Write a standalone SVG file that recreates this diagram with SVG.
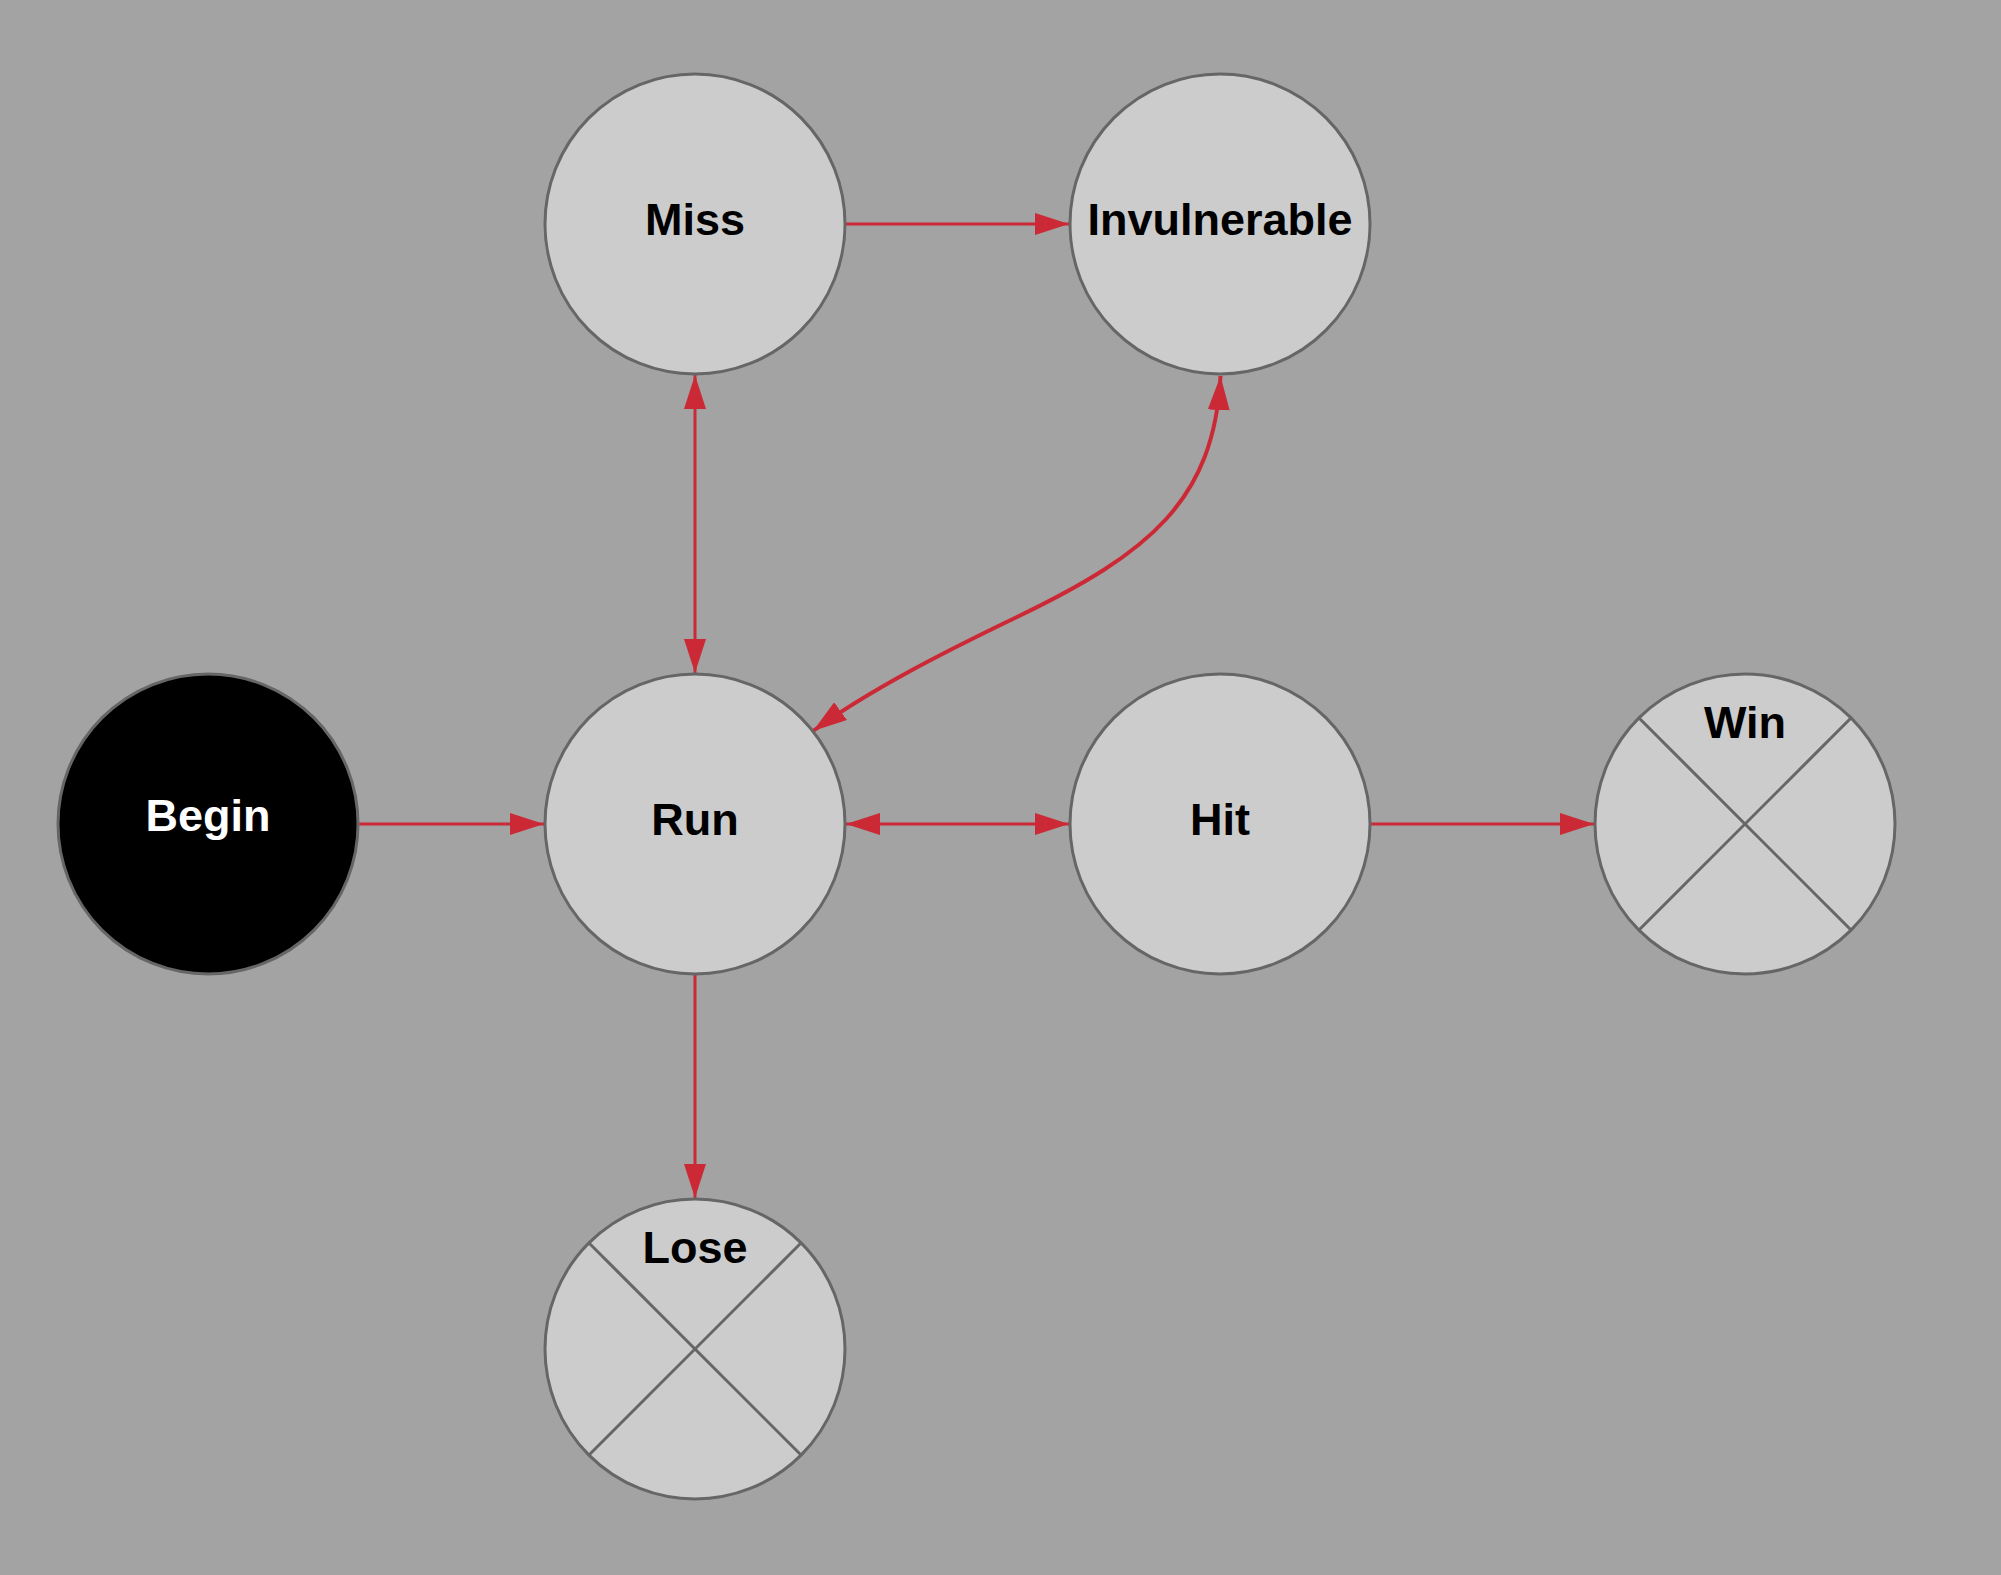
<svg xmlns="http://www.w3.org/2000/svg" width="2001" height="1575" viewBox="0 0 2001 1575">
<style>
.node circle{fill:#cccccc;stroke:#666666;stroke-width:3}
.node line{stroke:#666666;stroke-width:3}
.node text{font-family:"Liberation Sans",Arial,sans-serif;font-weight:bold;font-size:45px;fill:#000000;text-anchor:middle}
#begin circle{fill:#000000}
#begin text{fill:#ffffff}
.edge{fill:none;stroke:#cc2936;stroke-width:3}
.curve{stroke-width:4}
</style>
<defs>
<marker id="ah" markerUnits="userSpaceOnUse" markerWidth="36" markerHeight="24" refX="34" refY="11" orient="auto-start-reverse" viewBox="0 0 36 24">
<path d="M0,0 L34,11 L0,22 z" fill="#cc2936"/>
</marker>
</defs>
<rect width="2001" height="1575" fill="#a3a3a3"/>
<g id="connectors">
<line class="edge" x1="358" y1="824" x2="544" y2="824" marker-end="url(#ah)"/>
<line class="edge" x1="695" y1="375" x2="695" y2="673" marker-start="url(#ah)" marker-end="url(#ah)"/>
<line class="edge" x1="846" y1="224" x2="1069" y2="224" marker-end="url(#ah)"/>
<line class="edge" x1="846" y1="824" x2="1069" y2="824" marker-start="url(#ah)" marker-end="url(#ah)"/>
<line class="edge" x1="1371" y1="824" x2="1594" y2="824" marker-end="url(#ah)"/>
<line class="edge" x1="695" y1="975" x2="695" y2="1198" marker-end="url(#ah)"/>
<path class="edge curve" d="M1220.5,376 C1214,500 1150,553 1017,617 C940,654 870,690 813,731" marker-start="url(#ah)" marker-end="url(#ah)"/>
</g>
<g id="miss" class="node">
<circle cx="695" cy="224" r="150"/>
<text x="695" y="235">Miss</text>
</g>
<g id="invulnerable" class="node">
<circle cx="1220" cy="224" r="150"/>
<text x="1220" y="235">Invulnerable</text>
</g>
<g id="begin" class="node">
<circle cx="208" cy="824" r="150"/>
<text x="208" y="831">Begin</text>
</g>
<g id="run" class="node">
<circle cx="695" cy="824" r="150"/>
<text x="695" y="835">Run</text>
</g>
<g id="hit" class="node">
<circle cx="1220" cy="824" r="150"/>
<text x="1220" y="835">Hit</text>
</g>
<g id="win" class="node">
<circle cx="1745" cy="824" r="150"/>
<line x1="1639" y1="718" x2="1851" y2="930"/>
<line x1="1851" y1="718" x2="1639" y2="930"/>
<text x="1745" y="738">Win</text>
</g>
<g id="lose" class="node">
<circle cx="695" cy="1349" r="150"/>
<line x1="589" y1="1243" x2="801" y2="1455"/>
<line x1="801" y1="1243" x2="589" y2="1455"/>
<text x="695" y="1263">Lose</text>
</g>
</svg>
